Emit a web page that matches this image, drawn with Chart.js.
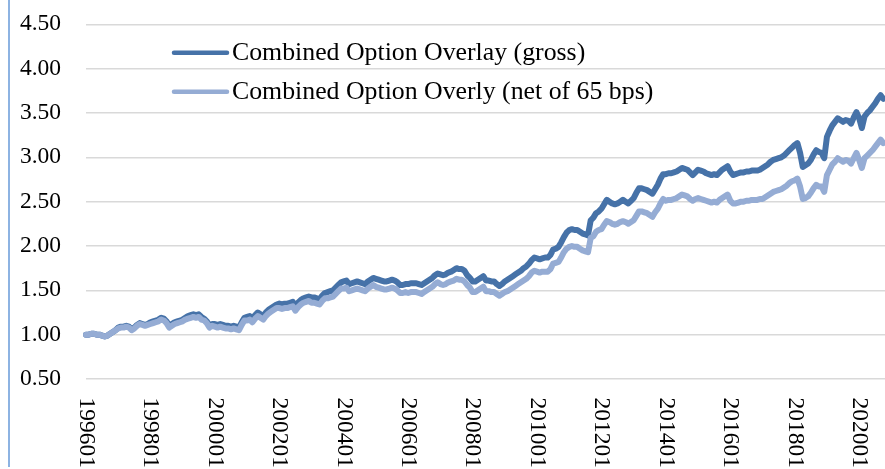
<!DOCTYPE html>
<html>
<head>
<meta charset="utf-8">
<script src="https://cdn.jsdelivr.net/npm/chart.js@4.4.1/dist/chart.umd.min.js"></script>
<style>
html,body{margin:0;padding:0;background:#fff;overflow:hidden;width:885px;height:469px;}
#wrap{position:relative;width:890px;height:469px;}
#bar{position:absolute;left:8px;top:0;width:2px;height:467px;background:#8db3e2;}
canvas{position:absolute;left:0;top:0;}
</style>
</head>
<body>
<div id="wrap"><canvas id="c" width="890" height="469"></canvas><div id="bar"></div></div>
<script>
// Monthly categories 199601 .. 202011
const categories = [];
for (let y = 1996; y <= 2020; y++) {
  for (let m = 1; m <= 12; m++) {
    if (y === 2020 && m > 11) break;
    categories.push(String(y) + String(m).padStart(2, '0'));
  }
}
const tickLabels = ['199601','199801','200001','200201','200401','200601','200801','201001','201201','201401','201601','201801','202001'];
const yMin = 0.5, yMax = 4.5, yStep = 0.5;

const seriesNames = ['Combined Option Overlay (gross)', 'Combined Option Overly (net of 65 bps)'];

const grossValues = [
  1.00,1.00,1.01,1.01,1.00,1.00,0.99,0.98,0.99,1.01,1.03,1.05,
  1.08,1.09,1.09,1.10,1.09,1.06,1.08,1.11,1.13,1.12,1.11,1.12,
  1.14,1.15,1.16,1.17,1.19,1.18,1.15,1.10,1.12,1.14,1.15,1.16,
  1.17,1.19,1.21,1.22,1.23,1.22,1.23,1.20,1.18,1.15,1.10,1.12,
  1.12,1.11,1.12,1.11,1.10,1.10,1.09,1.10,1.09,1.08,1.14,1.19,
  1.20,1.21,1.18,1.22,1.25,1.23,1.21,1.25,1.28,1.30,1.32,1.34,
  1.35,1.34,1.35,1.35,1.36,1.37,1.32,1.36,1.39,1.41,1.42,1.43,
  1.42,1.42,1.41,1.40,1.44,1.47,1.48,1.49,1.50,1.53,1.56,1.59,
  1.60,1.61,1.57,1.58,1.59,1.60,1.59,1.58,1.57,1.60,1.62,1.64,
  1.63,1.62,1.61,1.60,1.60,1.61,1.62,1.61,1.59,1.56,1.56,1.57,
  1.57,1.58,1.58,1.58,1.57,1.56,1.58,1.60,1.62,1.64,1.67,1.69,
  1.68,1.67,1.68,1.70,1.71,1.73,1.75,1.74,1.74,1.72,1.67,1.64,
  1.60,1.60,1.62,1.64,1.66,1.61,1.61,1.60,1.60,1.57,1.55,1.57,
  1.60,1.62,1.64,1.66,1.68,1.70,1.72,1.75,1.77,1.80,1.84,1.87,
  1.86,1.85,1.86,1.87,1.87,1.90,1.96,1.97,1.99,2.04,2.10,2.15,
  2.18,2.19,2.18,2.18,2.16,2.14,2.13,2.12,2.29,2.32,2.37,2.39,
  2.42,2.47,2.52,2.50,2.48,2.47,2.48,2.50,2.52,2.50,2.48,2.51,
  2.54,2.60,2.65,2.65,2.64,2.63,2.61,2.59,2.64,2.69,2.76,2.81,
  2.81,2.82,2.82,2.83,2.84,2.86,2.88,2.87,2.86,2.83,2.80,2.83,
  2.86,2.85,2.84,2.82,2.81,2.80,2.81,2.80,2.83,2.86,2.88,2.90,
  2.84,2.80,2.81,2.82,2.83,2.83,2.84,2.84,2.85,2.85,2.85,2.86,
  2.88,2.90,2.92,2.95,2.97,2.98,2.99,3.00,3.02,3.05,3.08,3.11,
  3.14,3.16,3.05,2.89,2.91,2.93,2.97,3.03,3.08,3.06,3.05,2.99,
  3.23,3.30,3.36,3.40,3.44,3.42,3.40,3.42,3.41,3.38,3.45,3.51,
  3.44,3.33,3.46,3.50,3.53,3.57,3.61,3.66,3.70,3.66
];

const netValues = [
  1.00,1.00,1.01,1.01,1.00,1.00,0.99,0.98,0.99,1.01,1.03,1.05,
  1.07,1.08,1.08,1.09,1.08,1.05,1.07,1.10,1.12,1.11,1.10,1.11,
  1.12,1.13,1.14,1.15,1.17,1.16,1.13,1.08,1.10,1.12,1.13,1.14,
  1.15,1.17,1.18,1.19,1.20,1.19,1.20,1.17,1.16,1.13,1.08,1.10,
  1.09,1.08,1.09,1.08,1.07,1.07,1.06,1.07,1.06,1.05,1.11,1.16,
  1.16,1.17,1.14,1.18,1.21,1.19,1.17,1.21,1.24,1.26,1.28,1.30,
  1.30,1.29,1.30,1.30,1.31,1.32,1.27,1.31,1.34,1.36,1.37,1.38,
  1.36,1.36,1.35,1.34,1.38,1.41,1.41,1.42,1.43,1.46,1.49,1.52,
  1.52,1.53,1.49,1.50,1.51,1.52,1.51,1.50,1.49,1.52,1.54,1.56,
  1.54,1.53,1.52,1.51,1.51,1.52,1.53,1.52,1.50,1.47,1.47,1.48,
  1.47,1.48,1.48,1.48,1.47,1.46,1.48,1.50,1.52,1.54,1.57,1.59,
  1.57,1.56,1.57,1.59,1.60,1.61,1.63,1.62,1.62,1.60,1.56,1.53,
  1.48,1.48,1.50,1.52,1.54,1.49,1.49,1.48,1.48,1.46,1.44,1.46,
  1.48,1.49,1.51,1.53,1.55,1.57,1.59,1.61,1.63,1.66,1.70,1.72,
  1.71,1.70,1.71,1.71,1.71,1.74,1.80,1.81,1.82,1.87,1.93,1.97,
  1.99,2.00,1.99,1.99,1.97,1.95,1.94,1.93,2.09,2.11,2.16,2.18,
  2.19,2.24,2.28,2.27,2.25,2.24,2.25,2.27,2.28,2.27,2.25,2.27,
  2.29,2.34,2.39,2.39,2.38,2.37,2.35,2.33,2.38,2.42,2.48,2.53,
  2.51,2.52,2.52,2.53,2.54,2.56,2.58,2.57,2.56,2.53,2.51,2.53,
  2.54,2.53,2.52,2.51,2.50,2.49,2.50,2.49,2.52,2.54,2.56,2.58,
  2.51,2.48,2.48,2.49,2.50,2.50,2.51,2.51,2.52,2.52,2.52,2.53,
  2.53,2.55,2.57,2.59,2.61,2.62,2.63,2.64,2.66,2.68,2.71,2.73,
  2.74,2.76,2.67,2.53,2.54,2.56,2.60,2.65,2.69,2.67,2.67,2.61,
  2.80,2.86,2.92,2.95,2.99,2.97,2.95,2.97,2.96,2.93,2.99,3.05,
  2.97,2.88,2.99,3.02,3.05,3.08,3.12,3.16,3.20,3.16
];

const grossColor = '#4672a8';
const netColor = '#95acd4';
const fontFamily = '"Liberation Serif", "Times New Roman", serif';

const overlayPlugin = {
  id: 'overlay',
  afterDraw(chart) {
    const ctx = chart.ctx;
    const xs = chart.scales.x;
    const area = chart.chartArea;
    ctx.save();
    // rotated x tick labels (reading top to bottom)
    ctx.fillStyle = '#000';
    ctx.font = '23.5px ' + fontFamily;
    ctx.textAlign = 'left';
    ctx.textBaseline = 'middle';
    tickLabels.forEach(lbl => {
      const idx = categories.indexOf(lbl);
      const x = xs.getPixelForValue(idx);
      ctx.save();
      ctx.translate(x, area.bottom + 18.5);
      ctx.rotate(Math.PI / 2);
      ctx.fillText(lbl, 0, 0);
      ctx.restore();
    });
    // legend inside plot
    const items = [
      {color: grossColor, text: seriesNames[0], y: 52.7, base: 60},
      {color: netColor, text: seriesNames[1], y: 91.7, base: 98.8}
    ];
    ctx.font = '25.8px ' + fontFamily;
    ctx.textBaseline = 'alphabetic';
    items.forEach(it => {
      ctx.beginPath();
      ctx.strokeStyle = it.color;
      ctx.lineWidth = 4.5;
      ctx.lineCap = 'round';
      ctx.moveTo(174, it.y);
      ctx.lineTo(227, it.y);
      ctx.stroke();
      ctx.fillStyle = '#000';
      ctx.fillText(it.text, 232, it.base);
    });
    ctx.restore();
  }
};

new Chart(document.getElementById('c'), {
  type: 'line',
  data: {
    labels: categories,
    datasets: [
      {
        label: seriesNames[0],
        data: grossValues,
        borderColor: grossColor,
        backgroundColor: grossColor,
        borderWidth: 6,
        pointRadius: 0,
        tension: 0,
        borderJoinStyle: 'round',
        borderCapStyle: 'round',
        order: 1
      },
      {
        label: seriesNames[1],
        data: netValues,
        borderColor: netColor,
        backgroundColor: netColor,
        borderWidth: 6,
        pointRadius: 0,
        tension: 0,
        borderJoinStyle: 'round',
        borderCapStyle: 'round',
        order: 0
      }
    ]
  },
  options: {
    responsive: false,
    animation: false,
    devicePixelRatio: 1,
    layout: { padding: { left: 0, right: 4, top: 24.3, bottom: 0 } },
    plugins: { legend: { display: false }, tooltip: { enabled: false } },
    scales: {
      x: {
        type: 'category',
        offset: false,
        grid: { display: false },
        border: { display: false },
        ticks: { display: false },
        afterFit(scale) { scale.height = 90; }
      },
      y: {
        min: yMin,
        max: yMax,
        border: { display: false },
        grid: { color: '#d9d9d9', lineWidth: 1.5, drawTicks: true, tickLength: 25, tickColor: 'rgba(0,0,0,0)' },
        ticks: {
          stepSize: yStep,
          padding: 0,
          color: '#000',
          font: { family: fontFamily, size: 23.5 },
          callback: v => Number(v).toFixed(2)
        },
        afterFit(scale) { scale.width = 86; }
      }
    }
  },
  plugins: [overlayPlugin]
});
</script>
</body>
</html>
